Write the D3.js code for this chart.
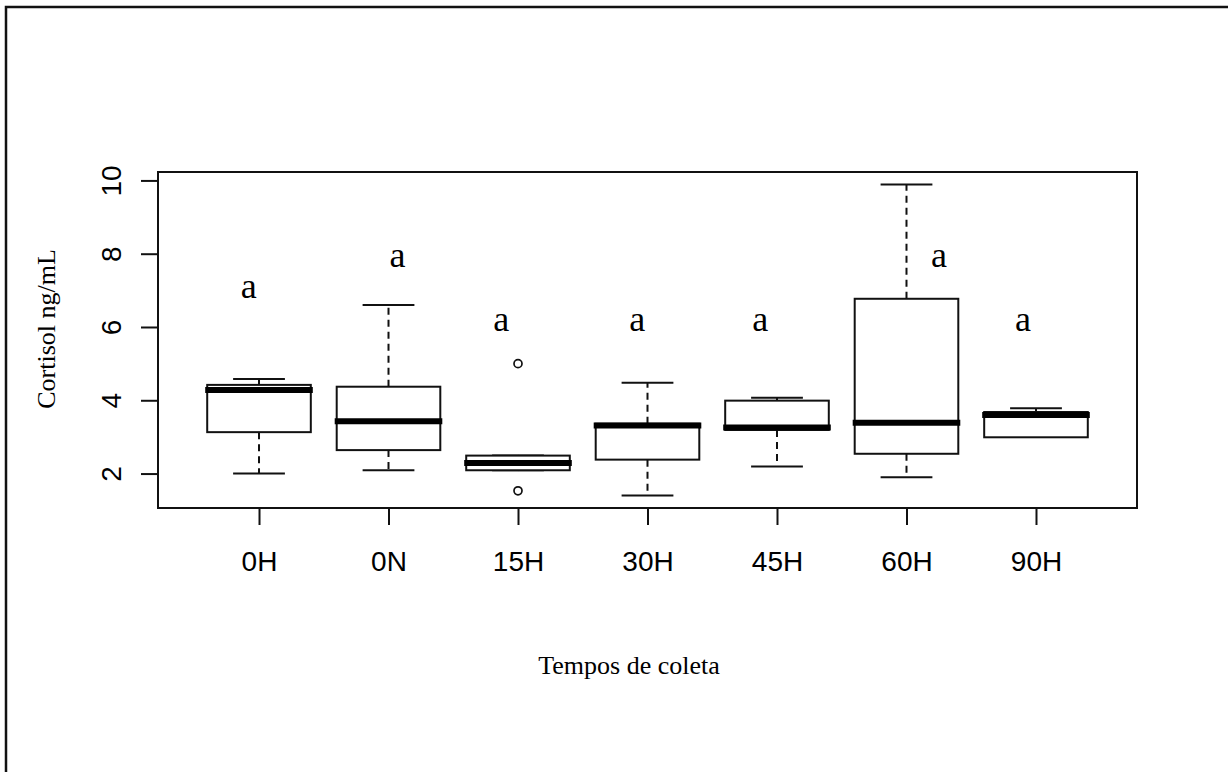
<!DOCTYPE html>
<html>
<head>
<meta charset="utf-8">
<script src="https://cdn.jsdelivr.net/npm/d3@7"></script>
<style>
  body { margin: 0; background: #fff; }
  svg { display: block; }
</style>
</head>
<body>
<div class="boxplot"></div>
<script>
const width = 1228;
const height = 772;

// plot region (R style box)
const plotLeft = 158, plotRight = 1137, plotTop = 172, plotBottom = 508;

const groups = ["0H", "0N", "15H", "30H", "45H", "60H", "90H"];
const whiskerLow = [2.0, 2.09, 2.09, 1.40, 2.19, 1.90, 3.0];
const q1 = [3.13, 2.64, 2.09, 2.38, 3.19, 2.54, 2.99];
const medians = [4.28, 3.43, 2.29, 3.31, 3.26, 3.39, 3.60];
const q3 = [4.42, 4.37, 2.49, 3.36, 3.99, 6.77, 3.68];
const whiskerHigh = [4.58, 6.60, 2.49, 4.48, 4.07, 9.89, 3.78];
const outliers = [[], [], [5.0, 1.53], [], [], [], []];

// letters placed with text(), in data units
const letterX = [0.92, 2.07, 2.87, 3.92, 4.87, 6.25, 6.90];
const letterY = [6.78, 7.65, 5.90, 5.90, 5.90, 7.65, 5.90];
const letters = ["a", "a", "a", "a", "a", "a", "a"];

const yTicks = [2, 4, 6, 8, 10];

var boxes = groups.map((g, i) => {
    return {
        name: g,
        pos: i + 1,
        lo: whiskerLow[i],
        q1: q1[i],
        med: medians[i],
        q3: q3[i],
        hi: whiskerHigh[i],
        out: outliers[i],
    };
});

let svg = d3
    .select(".boxplot")
    .append("svg")
    .attr("width", width)
    .attr("height", height);

svg.append("rect")
    .attr("width", width)
    .attr("height", height)
    .attr("fill", "#fff");

// outer frame of the figure (right and bottom edges cut off)
svg.append("rect")
    .attr("x", 6)
    .attr("y", 7)
    .attr("width", 1400)
    .attr("height", 900)
    .attr("fill", "none")
    .attr("stroke", "#111")
    .attr("stroke-width", 2.5);

let xScale = d3.scaleLinear().domain([0.22, 7.78]).range([plotLeft, plotRight]);
let yScale = d3.scaleLinear().domain([1.06, 10.23]).range([plotBottom, plotTop]);

const boxHalf = xScale(1.4) - xScale(1); // boxwex 0.8
const capHalf = boxHalf / 2;

let g = svg.append("g");

// whiskers (dashed)
g.selectAll(".wLow")
    .data(boxes)
    .enter()
    .append("line")
    .attr("x1", (d) => xScale(d.pos))
    .attr("x2", (d) => xScale(d.pos))
    .attr("y1", (d) => yScale(d.q1))
    .attr("y2", (d) => yScale(d.lo))
    .attr("stroke", "#111")
    .attr("stroke-width", 2)
    .attr("stroke-dasharray", "7,5");
g.selectAll(".wHigh")
    .data(boxes)
    .enter()
    .append("line")
    .attr("x1", (d) => xScale(d.pos))
    .attr("x2", (d) => xScale(d.pos))
    .attr("y1", (d) => yScale(d.q3))
    .attr("y2", (d) => yScale(d.hi))
    .attr("stroke", "#111")
    .attr("stroke-width", 2)
    .attr("stroke-dasharray", "7,5");

// staples
["lo", "hi"].forEach((k) => {
    g.selectAll(".cap-" + k)
        .data(boxes)
        .enter()
        .append("line")
        .attr("x1", (d) => xScale(d.pos) - capHalf)
        .attr("x2", (d) => xScale(d.pos) + capHalf)
        .attr("y1", (d) => yScale(d[k]))
        .attr("y2", (d) => yScale(d[k]))
        .attr("stroke", "#111")
        .attr("stroke-width", 2);
});

// boxes
g.selectAll(".box")
    .data(boxes)
    .enter()
    .append("rect")
    .attr("x", (d) => xScale(d.pos) - boxHalf)
    .attr("width", boxHalf * 2)
    .attr("y", (d) => yScale(d.q3))
    .attr("height", (d) => yScale(d.q1) - yScale(d.q3))
    .attr("fill", "#fff")
    .attr("stroke", "#111")
    .attr("stroke-width", 2);

// medians
g.selectAll(".median")
    .data(boxes)
    .enter()
    .append("line")
    .attr("x1", (d) => xScale(d.pos) - boxHalf - 2)
    .attr("x2", (d) => xScale(d.pos) + boxHalf + 2)
    .attr("y1", (d) => yScale(d.med))
    .attr("y2", (d) => yScale(d.med))
    .attr("stroke", "#000")
    .attr("stroke-width", 6);

// outliers
let outPts = [];
boxes.forEach((d) => d.out.forEach((v) => outPts.push({ pos: d.pos, v: v })));
g.selectAll(".outlier")
    .data(outPts)
    .enter()
    .append("circle")
    .attr("cx", (d) => xScale(d.pos))
    .attr("cy", (d) => yScale(d.v))
    .attr("r", 4)
    .attr("fill", "none")
    .attr("stroke", "#111")
    .attr("stroke-width", 1.7);

// letters
g.selectAll(".letter")
    .data(letters)
    .enter()
    .append("text")
    .text((d) => d)
    .attr("x", (d, i) => xScale(letterX[i]))
    .attr("y", (d, i) => yScale(letterY[i]))
    .attr("text-anchor", "middle")
    .attr("font-family", "'Liberation Serif', 'Times New Roman', serif")
    .attr("font-size", 36)
    .attr("fill", "#000");

// plot frame
svg.append("rect")
    .attr("x", plotLeft)
    .attr("y", plotTop)
    .attr("width", plotRight - plotLeft)
    .attr("height", plotBottom - plotTop)
    .attr("fill", "none")
    .attr("stroke", "#111")
    .attr("stroke-width", 2);

//Create xAxis
let xAxis = d3
    .axisBottom(xScale)
    .tickValues(boxes.map((d) => d.pos))
    .tickFormat((d) => groups[d - 1])
    .tickSize(17);
let xG = svg.append("g")
    .attr("transform", "translate(0," + plotBottom + ")")
    .call(xAxis);
xG.select(".domain").remove();
xG.selectAll("line").attr("stroke", "#111").attr("stroke-width", 2);
xG.selectAll("text")
    .attr("y", 63)
    .attr("dy", 0)
    .attr("fill", "#000")
    .attr("font-family", "'Liberation Sans', Arial, sans-serif")
    .attr("font-size", 28);

//Create yAxis
let yAxis = d3.axisLeft(yScale).tickValues(yTicks).tickSize(17);
let yG = svg.append("g")
    .attr("transform", "translate(" + plotLeft + ",0)")
    .call(yAxis);
yG.select(".domain").remove();
yG.selectAll("line").attr("stroke", "#111").attr("stroke-width", 2);
yG.selectAll("text")
    .attr("x", 0)
    .attr("dy", "0.35em")
    .attr("text-anchor", "middle")
    .attr("transform", "translate(" + (111.5 - plotLeft) + ",0) rotate(-90)")
    .attr("fill", "#000")
    .attr("font-family", "'Liberation Sans', Arial, sans-serif")
    .attr("font-size", 28);

// axis titles
svg.append("text")
    .text("Tempos de coleta")
    .attr("x", 629)
    .attr("y", 674)
    .attr("text-anchor", "middle")
    .attr("font-family", "'Liberation Serif', 'Times New Roman', serif")
    .attr("font-size", 26)
    .attr("fill", "#000");
svg.append("text")
    .text("Cortisol ng/mL")
    .attr("text-anchor", "middle")
    .attr("transform", "translate(55,329) rotate(-90)")
    .attr("font-family", "'Liberation Serif', 'Times New Roman', serif")
    .attr("font-size", 26)
    .attr("fill", "#000");
</script>
</body>
</html>
